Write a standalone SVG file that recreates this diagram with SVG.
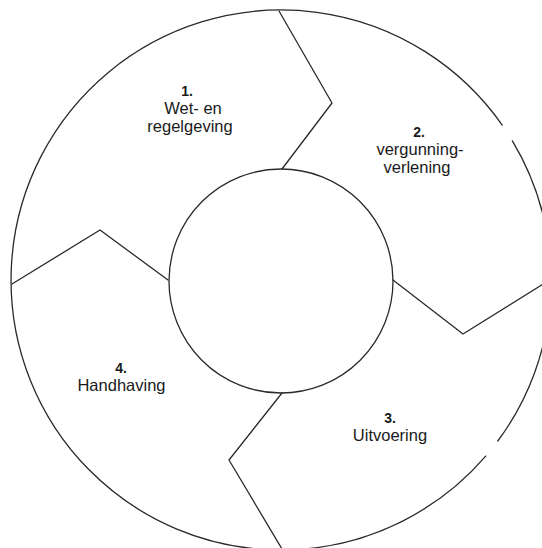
<svg xmlns="http://www.w3.org/2000/svg" width="542" height="548" viewBox="0 0 542 548">
  <style>
    .ln { fill: none; stroke: #2a2a2a; stroke-width: 1.3; stroke-linejoin: round; stroke-linecap: round; }
    .num { font-family: "Liberation Sans", Arial, sans-serif; font-size: 14px; font-weight: bold; fill: #1a1a1a; text-anchor: middle; }
    .lbl { font-family: "Liberation Sans", Arial, sans-serif; font-size: 16.5px; fill: #1a1a1a; text-anchor: middle; }
  </style>
  <rect width="542" height="548" fill="#ffffff"/>
  <g id="outer-ring">
    <path class="ln" d="M512.4,140.9 A270,270 0 0 1 497.8,441.0 M485.7,456.1 A270,270 0 1 1 502.2,125.1"/>
  </g>
  <g id="center-circle">
    <circle class="ln" cx="281" cy="281" r="112"/>
  </g>
  <g id="connectors">
    <polyline class="ln" points="279,11 332,103 282,169"/>
    <polyline class="ln" points="393,280 463,334 548,281"/>
    <polyline class="ln" points="282,393 229,460 282,549"/>
    <polyline class="ln" points="12,284 100,230 168,280"/>
  </g>
  <g id="step-1">
    <text class="num" x="187" y="96">1.</text>
    <text class="lbl" x="193" y="114">Wet- en</text>
    <text class="lbl" x="190" y="132">regelgeving</text>
  </g>
  <g id="step-2">
    <text class="num" x="419" y="137">2.</text>
    <text class="lbl" x="420" y="155">vergunning-</text>
    <text class="lbl" x="417" y="173">verlening</text>
  </g>
  <g id="step-3">
    <text class="num" x="390" y="423">3.</text>
    <text class="lbl" x="390" y="441">Uitvoering</text>
  </g>
  <g id="step-4">
    <text class="num" x="121" y="373">4.</text>
    <text class="lbl" x="121.5" y="391">Handhaving</text>
  </g>
</svg>
